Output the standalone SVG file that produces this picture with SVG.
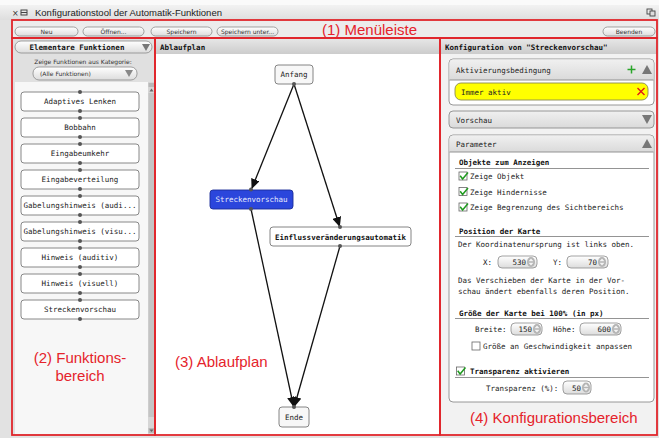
<svg xmlns="http://www.w3.org/2000/svg" width="659" height="438" viewBox="0 0 659 438">
  <defs>
    <linearGradient id="gBtn" x1="0" y1="0" x2="0" y2="1">
      <stop offset="0" stop-color="#ffffff"/>
      <stop offset="1" stop-color="#dcdcdc"/>
    </linearGradient>
    <linearGradient id="gHead" x1="0" y1="0" x2="0" y2="1">
      <stop offset="0" stop-color="#e6e6e6"/>
      <stop offset="1" stop-color="#cccccc"/>
    </linearGradient>
    <linearGradient id="gSec" x1="0" y1="0" x2="0" y2="1">
      <stop offset="0" stop-color="#f0f0f0"/>
      <stop offset="1" stop-color="#dadada"/>
    </linearGradient>
    <linearGradient id="gTitle" x1="0" y1="0" x2="0" y2="1">
      <stop offset="0" stop-color="#f2f2f2"/>
      <stop offset="1" stop-color="#dedede"/>
    </linearGradient>
    <marker id="arrow" markerUnits="userSpaceOnUse" markerWidth="10" markerHeight="9" refX="9" refY="4.5" orient="auto">
      <path d="M0,0 L10,4.5 L0,9 z" fill="#111"/>
    </marker>
    <g id="spinArrows">
      <ellipse cx="0" cy="0" rx="4" ry="5" fill="#b4b4b4"/>
      <path d="M-2.5,-0.8 L0,-3.6 L2.5,-0.8 z M-2.5,0.8 L0,3.6 L2.5,0.8 z" fill="#f4f4f4"/>
    </g>
    <g id="check">
      <rect x="0" y="0" width="8" height="8" fill="#fff" stroke="#666" stroke-width="0.8"/>
      <path d="M1.2,3.8 L3.6,7 L9,0.5" fill="none" stroke="#1f9a1f" stroke-width="1.5"/>
    </g>
  </defs>
  <style>
    .mono { font-family: "DejaVu Sans Mono", "Liberation Mono", monospace; font-size: 7.5px; fill: #222; }
    .monob { font-family: "DejaVu Sans Mono", "Liberation Mono", monospace; font-size: 7.5px; font-weight: bold; fill: #111; }
    .sans { font-family: "DejaVu Sans", "Liberation Sans", sans-serif; font-size: 6px; fill: #333; }
    .note { font-family: "Liberation Sans", Arial, sans-serif; font-size: 15px; fill: #e5232b; }
    .btn { fill: url(#gBtn); stroke: #8a8a8a; stroke-width: 0.8; }
    .fn { fill: #ffffff; stroke: #7a7a7a; stroke-width: 0.9; }
    .dot { fill: #555; }
    .sec { fill: #ffffff; stroke: #8c8c8c; stroke-width: 0.9; }
    .sech { fill: url(#gSec); }
    .rule { stroke: #888; stroke-width: 0.9; }
    .zone { fill: none; stroke: #e0262c; stroke-width: 1.8; }
    .edge { fill: none; stroke: #111; stroke-width: 1.3; marker-end: url(#arrow); }
    .tri { fill: #777; }
    .mid { text-anchor: middle; }
    .end { text-anchor: end; }
  </style>

  <!-- window background -->
  <rect x="0" y="0" width="659" height="438" fill="#e2e2e2"/>

  <!-- title bar -->
  <g id="titlebar">
    <rect x="0" y="0" width="659" height="5" fill="#fafafa"/>
    <rect x="0" y="5" width="659" height="15" fill="url(#gTitle)"/>
    <text x="12" y="16" font-family="DejaVu Sans, sans-serif" font-size="8" fill="#333">×</text>
    <rect x="21" y="10" width="6" height="5" fill="none" stroke="#444" stroke-width="1"/>
    <line x1="21" y1="12.5" x2="27" y2="12.5" stroke="#444" stroke-width="1"/>
    <text x="35" y="16" font-family="Liberation Sans, Arial, sans-serif" font-size="9.5" fill="#222">Konfigurationstool der Automatik-Funktionen</text>
    <rect x="647" y="9" width="5" height="5" fill="none" stroke="#444" stroke-width="0.9"/>
    <rect x="650" y="11" width="5" height="5" fill="#ddd" stroke="#444" stroke-width="0.9"/>
  </g>

  <!-- menu bar -->
  <g id="menubar">
    <rect x="12" y="20" width="645" height="18" fill="#ececec"/>
    <rect class="btn" x="15" y="27" width="63" height="9" rx="4.5"/>
    <text class="sans mid" x="46.5" y="33.8">Neu</text>
    <rect class="btn" x="83" y="27" width="61" height="9" rx="4.5"/>
    <text class="sans mid" x="113.5" y="33.8">Öffnen...</text>
    <rect class="btn" x="151" y="27" width="61" height="9" rx="4.5"/>
    <text class="sans mid" x="181.5" y="33.8">Speichern</text>
    <rect class="btn" x="217" y="27" width="61" height="9" rx="4.5"/>
    <text class="sans mid" x="247.5" y="33.8">Speichern unter...</text>
    <rect class="btn" x="603" y="27" width="52" height="9" rx="4.5"/>
    <text class="sans mid" x="629" y="33.8">Beenden</text>
  </g>

  <!-- left panel: function palette -->
  <g id="palette">
    <rect x="13" y="38" width="142" height="398" fill="#e0e0e0"/>
    <rect class="btn" x="15" y="41" width="137" height="12" rx="6"/>
    <text class="monob mid" x="77" y="49.8">Elementare Funktionen</text>
    <path class="tri" d="M142,44 L150,44 L146,51 z" fill="#999"/>
    <text class="sans mid" x="83" y="64">Zeige Funktionen aus Kategorie:</text>
    <rect class="btn" x="33" y="67" width="104" height="13" rx="6"/>
    <text class="sans" x="40" y="75.5">(Alle Funktionen)</text>
    <path d="M125,70 L133,70 L129,77 z" fill="#888"/>
    <rect x="15" y="82" width="133" height="352" fill="#f7f7f7"/>
    <!-- scrollbar -->
    <rect x="148" y="82" width="7" height="352" fill="#d6d6d6"/>
    <rect x="148.5" y="93" width="6" height="324" fill="#c4c4c4"/>
    <rect x="148.5" y="83" width="6" height="4" fill="#b8b8b8"/>
    <path d="M149.5,91.5 L153.5,91.5 L151.5,88.5 z" fill="#666"/>
    <rect x="148.5" y="428" width="6" height="5" fill="#b8b8b8"/>
    <path d="M149.5,429.5 L153.5,429.5 L151.5,432 z" fill="#666"/>
  </g>

  <g id="fn-adaptives-lenken">
    <rect class="fn" x="21" y="92" width="118" height="19" rx="3"/>
    <circle class="dot" cx="80" cy="92" r="2"/><circle class="dot" cx="80" cy="111" r="2"/>
    <text class="mono mid" x="80" y="104">Adaptives Lenken</text>
  </g>
  <g id="fn-bobbahn">
    <rect class="fn" x="21" y="118" width="118" height="19" rx="3"/>
    <circle class="dot" cx="80" cy="118" r="2"/><circle class="dot" cx="80" cy="137" r="2"/>
    <text class="mono mid" x="80" y="130">Bobbahn</text>
  </g>
  <g id="fn-eingabeumkehr">
    <rect class="fn" x="21" y="144" width="118" height="19" rx="3"/>
    <circle class="dot" cx="80" cy="144" r="2"/><circle class="dot" cx="80" cy="163" r="2"/>
    <text class="mono mid" x="80" y="156">Eingabeumkehr</text>
  </g>
  <g id="fn-eingabeverteilung">
    <rect class="fn" x="21" y="170" width="118" height="19" rx="3"/>
    <circle class="dot" cx="80" cy="170" r="2"/><circle class="dot" cx="80" cy="189" r="2"/>
    <text class="mono mid" x="80" y="182">Eingabeverteilung</text>
  </g>
  <g id="fn-gabelung-auditiv">
    <rect class="fn" x="21" y="196" width="118" height="19" rx="3"/>
    <circle class="dot" cx="80" cy="196" r="2"/><circle class="dot" cx="80" cy="215" r="2"/>
    <text class="mono mid" x="80" y="208">Gabelungshinweis (audi...</text>
  </g>
  <g id="fn-gabelung-visuell">
    <rect class="fn" x="21" y="222" width="118" height="19" rx="3"/>
    <circle class="dot" cx="80" cy="222" r="2"/><circle class="dot" cx="80" cy="241" r="2"/>
    <text class="mono mid" x="80" y="234">Gabelungshinweis (visu...</text>
  </g>
  <g id="fn-hinweis-auditiv">
    <rect class="fn" x="21" y="248" width="118" height="19" rx="3"/>
    <circle class="dot" cx="80" cy="248" r="2"/><circle class="dot" cx="80" cy="267" r="2"/>
    <text class="mono mid" x="80" y="260">Hinweis (auditiv)</text>
  </g>
  <g id="fn-hinweis-visuell">
    <rect class="fn" x="21" y="274" width="118" height="19" rx="3"/>
    <circle class="dot" cx="80" cy="274" r="2"/><circle class="dot" cx="80" cy="293" r="2"/>
    <text class="mono mid" x="80" y="286">Hinweis (visuell)</text>
  </g>
  <g id="fn-streckenvorschau">
    <rect class="fn" x="21" y="300" width="118" height="19" rx="3"/>
    <circle class="dot" cx="80" cy="300" r="2"/><circle class="dot" cx="80" cy="319" r="2"/>
    <text class="mono mid" x="80" y="312">Streckenvorschau</text>
  </g>

  <!-- middle panel: flow chart -->
  <g id="flowpanel">
    <rect x="156" y="38" width="284" height="398" fill="#ffffff"/>
    <rect x="156" y="39" width="284" height="15" fill="url(#gHead)"/>
    <text class="monob" x="160" y="49.5">Ablaufplan</text>
  </g>

  <g id="connectors">
    <line class="edge" x1="294" y1="84" x2="252" y2="188"/>
    <line class="edge" x1="294" y1="84" x2="339.5" y2="226"/>
    <line class="edge" x1="251" y1="209" x2="293.5" y2="406"/>
    <line class="edge" x1="340" y1="246" x2="294.5" y2="406"/>
  </g>

  <g id="node-anfang">
    <rect x="275" y="65" width="38" height="19" rx="3" fill="#f7f7f7" stroke="#777" stroke-width="0.9"/>
    <circle class="dot" cx="294" cy="84" r="2"/>
    <text class="mono mid" x="294" y="77" fill="#444">Anfang</text>
  </g>
  <g id="node-streckenvorschau">
    <rect x="210" y="190" width="83" height="19" rx="3" fill="#2b46dc" stroke="#1c2d98" stroke-width="0.9"/>
    <circle class="dot" cx="251" cy="189.5" r="2"/><circle class="dot" cx="251" cy="209" r="2"/>
    <text class="mono mid" x="251.5" y="202" style="fill:#e8ecff">Streckenvorschau</text>
  </g>
  <g id="node-einfluss">
    <rect x="270" y="227" width="141" height="19" rx="3" fill="#ffffff" stroke="#777" stroke-width="0.9"/>
    <circle class="dot" cx="340" cy="227" r="2"/><circle class="dot" cx="340" cy="246" r="2"/>
    <text class="monob mid" x="340.5" y="239.5">Einflussveränderungsautomatik</text>
  </g>
  <g id="node-ende">
    <rect x="279" y="407" width="30" height="20" rx="3" fill="#f7f7f7" stroke="#777" stroke-width="0.9"/>
    <circle class="dot" cx="294" cy="407" r="2"/>
    <text class="mono mid" x="294" y="419.5" fill="#444">Ende</text>
  </g>

  <!-- right panel: configuration -->
  <g id="configpanel">
    <rect x="441" y="38" width="216" height="398" fill="#f2f2f2"/>
    <rect x="441" y="39" width="216" height="15" fill="url(#gHead)"/>
    <text class="monob" x="445" y="49.5">Konfiguration von "Streckenvorschau"</text>
  </g>

  <g id="sec-aktivierung">
    <rect class="sec" x="449" y="59" width="205" height="46" rx="4"/>
    <path class="sech" d="M449.5,80 L449.5,63 Q449.5,59.5 453,59.5 L650,59.5 Q653.5,59.5 653.5,63 L653.5,80 z"/>
    <line class="rule" x1="449.5" y1="80" x2="653.5" y2="80" stroke="#bbb"/>
    <text class="mono" x="456" y="72.5" fill="#333">Aktivierungsbedingung</text>
    <path d="M627.5,69.5 L635.5,69.5 M631.5,65.5 L631.5,73.5" stroke="#2aa52a" stroke-width="1.5"/>
    <path class="tri" d="M642,74 L652,74 L647,65 z"/>
    <rect x="455" y="83" width="193" height="17" rx="6" fill="#ffff00" stroke="#8a8a50" stroke-width="0.9"/>
    <text class="mono" x="461" y="94.5">Immer aktiv</text>
    <path d="M637.5,88 L644.5,95 M644.5,88 L637.5,95" stroke="#e01818" stroke-width="1.4"/>
  </g>

  <g id="sec-vorschau">
    <rect x="449" y="111" width="205" height="17" rx="4" fill="url(#gSec)" stroke="#8c8c8c" stroke-width="0.9"/>
    <text class="mono" x="456" y="122.5" fill="#333">Vorschau</text>
    <path class="tri" d="M642,115 L652,115 L647,124 z"/>
  </g>

  <g id="sec-parameter">
    <rect class="sec" x="449" y="135" width="205" height="267" rx="4"/>
    <path class="sech" d="M449.5,152 L449.5,139 Q449.5,135.5 453,135.5 L650,135.5 Q653.5,135.5 653.5,139 L653.5,152 z"/>
    <line class="rule" x1="449.5" y1="152" x2="653.5" y2="152" stroke="#bbb"/>
    <text class="mono" x="456" y="147" fill="#333">Parameter</text>
    <path class="tri" d="M642,148 L652,148 L647,139 z"/>

    <text class="monob" x="459" y="165">Objekte zum Anzeigen</text>
    <line class="rule" x1="455" y1="168.5" x2="649" y2="168.5"/>
    <use href="#check" x="459" y="172"/>
    <text class="mono" x="470" y="179">Zeige Objekt</text>
    <use href="#check" x="459" y="187.5"/>
    <text class="mono" x="470" y="194.5">Zeige Hindernisse</text>
    <use href="#check" x="459" y="203"/>
    <text class="mono" x="470" y="210">Zeige Begrenzung des Sichtbereichs</text>

    <text class="monob" x="459" y="233.5">Position der Karte</text>
    <line class="rule" x1="455" y1="236.5" x2="649" y2="236.5"/>
    <text class="mono" x="458" y="247">Der Koordinatenursprung ist links oben.</text>
    <text class="mono" x="483" y="264.5">X:</text>
    <rect class="btn" x="498" y="256" width="39" height="12" rx="4"/>
    <text class="mono end" x="526" y="264.5">530</text>
    <use href="#spinArrows" x="531" y="262"/>
    <text class="mono" x="553" y="264.5">Y:</text>
    <rect class="btn" x="567" y="256" width="41" height="12" rx="4"/>
    <text class="mono end" x="597" y="264.5">70</text>
    <use href="#spinArrows" x="602" y="262"/>
    <text class="mono" x="458" y="282.5">Das Verschieben der Karte in der Vor-</text>
    <text class="mono" x="458" y="293.5">schau ändert ebenfalls deren Position.</text>

    <text class="monob" x="459" y="315.5">Größe der Karte bei 100% (in px)</text>
    <line class="rule" x1="455" y1="318.5" x2="649" y2="318.5"/>
    <text class="mono" x="475" y="331.5">Breite:</text>
    <rect class="btn" x="511" y="323" width="31" height="12" rx="4"/>
    <text class="mono end" x="532" y="331.5">150</text>
    <use href="#spinArrows" x="537" y="329"/>
    <text class="mono" x="553" y="331.5">Höhe:</text>
    <rect class="btn" x="580" y="323" width="41" height="12" rx="4"/>
    <text class="mono end" x="611" y="331.5">600</text>
    <use href="#spinArrows" x="616" y="329"/>
    <rect x="472" y="342" width="8" height="8" fill="#fff" stroke="#666" stroke-width="0.8"/>
    <text class="mono" x="483" y="349">Größe an Geschwindigkeit anpassen</text>

    <use href="#check" x="456.5" y="367"/>
    <text class="monob" x="470" y="374">Transparenz aktivieren</text>
    <line class="rule" x1="455" y1="377.5" x2="649" y2="377.5"/>
    <text class="mono" x="486" y="390.5">Transparenz (%):</text>
    <rect class="btn" x="563" y="381" width="28" height="13" rx="4"/>
    <text class="mono end" x="581" y="390.5">50</text>
    <use href="#spinArrows" x="586" y="387.5"/>
  </g>

  <!-- highlighted zones with captions -->
  <g id="zones">
    <rect class="zone" x="12" y="20" width="645" height="18"/>
    <rect class="zone" x="12" y="38" width="143" height="397"/>
    <rect class="zone" x="155" y="38" width="285" height="397"/>
    <rect class="zone" x="440" y="38" width="217" height="397"/>
    <text class="note" x="322" y="34.5">(1) Menüleiste</text>
    <text class="note mid" x="80" y="363">(2) Funktions-</text>
    <text class="note mid" x="80" y="381">bereich</text>
    <text class="note" x="175" y="367">(3) Ablaufplan</text>
    <text class="note" x="470" y="423">(4) Konfigurationsbereich</text>
  </g>
</svg>
